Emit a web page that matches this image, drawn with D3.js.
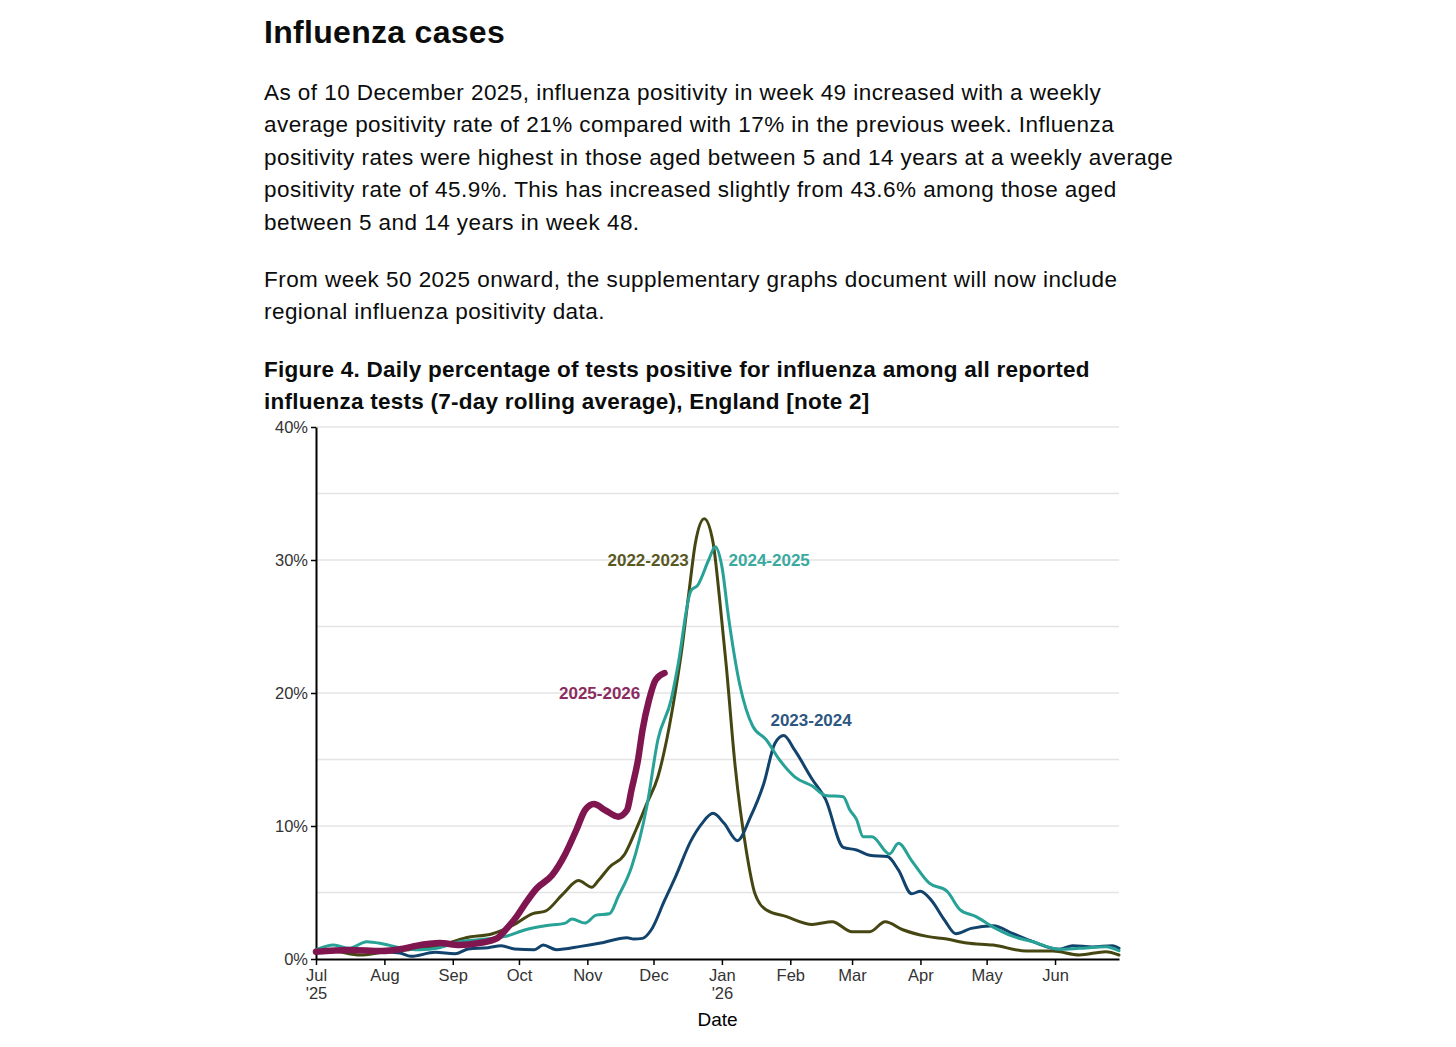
<!DOCTYPE html>
<html>
<head>
<meta charset="utf-8">
<script src="https://cdn.jsdelivr.net/npm/d3@7"></script>
<style>
  body { margin: 0; background: #fff; }
  svg text { font-family: "Liberation Sans", Arial, sans-serif; }
</style>
</head>
<body>
<div id="chart"></div>
<script>
// page text
var heading = "Influenza cases";
var para1 = [
  "As of 10 December 2025, influenza positivity in week 49 increased with a weekly",
  "average positivity rate of 21% compared with 17% in the previous week. Influenza",
  "positivity rates were highest in those aged between 5 and 14 years at a weekly average",
  "positivity rate of 45.9%. This has increased slightly from 43.6% among those aged",
  "between 5 and 14 years in week 48."
];
var para2 = [
  "From week 50 2025 onward, the supplementary graphs document will now include",
  "regional influenza positivity data."
];
var figTitle = [
  "Figure 4. Daily percentage of tests positive for influenza among all reported",
  "influenza tests (7-day rolling average), England [note 2]"
];

// y ticks (percent)
var yTicks = [0, 10, 20, 30, 40];
var yGrid = [5, 10, 15, 20, 25, 30, 35, 40];

// each season is plotted on a Jul 2025 - Jun 2026 axis
var season2223 = [
  ["2025-07-01", 0.5], ["2025-07-08", 0.6], ["2025-07-21", 0.3], ["2025-07-31", 0.5],
  ["2025-08-12", 0.7], ["2025-08-26", 1.0], ["2025-09-07", 1.6], ["2025-09-19", 1.9],
  ["2025-09-30", 2.7], ["2025-10-07", 3.4], ["2025-10-13", 3.6], ["2025-10-21", 4.9],
  ["2025-10-28", 5.9], ["2025-11-03", 5.4], ["2025-11-06", 5.9], ["2025-11-11", 6.9],
  ["2025-11-18", 7.9], ["2025-11-23", 9.7], ["2025-11-28", 11.7], ["2025-12-03", 13.7],
  ["2025-12-07", 16.5], ["2025-12-11", 20.2], ["2025-12-14", 23.5], ["2025-12-17", 27.5],
  ["2025-12-20", 31.3], ["2025-12-24", 33.1], ["2025-12-28", 31.3], ["2025-12-31", 27.0],
  ["2026-01-03", 22.0], ["2026-01-07", 14.5], ["2026-01-12", 8.2], ["2026-01-16", 4.9],
  ["2026-01-21", 3.7], ["2026-01-30", 3.2], ["2026-02-11", 2.6], ["2026-02-20", 2.8],
  ["2026-03-01", 2.05], ["2026-03-09", 2.05], ["2026-03-16", 2.8], ["2026-03-24", 2.2],
  ["2026-04-04", 1.7], ["2026-04-13", 1.5], ["2026-04-22", 1.2], ["2026-05-04", 1.05],
  ["2026-05-19", 0.6], ["2026-05-31", 0.6], ["2026-06-12", 0.3], ["2026-06-24", 0.55],
  ["2026-06-30", 0.3]
];

var season2324 = [
  ["2025-07-01", 0.55], ["2025-07-21", 0.65], ["2025-08-08", 0.45], ["2025-08-13", 0.2],
  ["2025-08-24", 0.5], ["2025-09-02", 0.4], ["2025-09-08", 0.75], ["2025-09-17", 0.85],
  ["2025-09-23", 1.0], ["2025-09-29", 0.75], ["2025-10-08", 0.7], ["2025-10-12", 1.05],
  ["2025-10-18", 0.7], ["2025-10-29", 0.95], ["2025-11-07", 1.2], ["2025-11-19", 1.6],
  ["2025-11-22", 1.5], ["2025-11-26", 1.55], ["2025-11-30", 2.2], ["2025-12-06", 4.4],
  ["2025-12-11", 6.2], ["2025-12-18", 8.9], ["2025-12-23", 10.2], ["2025-12-28", 10.95],
  ["2026-01-02", 10.2], ["2026-01-08", 8.9], ["2026-01-14", 10.7], ["2026-01-20", 13.2],
  ["2026-01-25", 16.2], ["2026-01-29", 16.8], ["2026-02-03", 15.7], ["2026-02-11", 13.5],
  ["2026-02-17", 12.0], ["2026-02-25", 8.4], ["2026-03-03", 8.2], ["2026-03-09", 7.8],
  ["2026-03-17", 7.7], ["2026-03-22", 6.7], ["2026-03-28", 4.9], ["2026-04-01", 5.1],
  ["2026-04-06", 4.4], ["2026-04-12", 2.9], ["2026-04-17", 1.9], ["2026-04-24", 2.3],
  ["2026-05-04", 2.5], ["2026-05-13", 1.9], ["2026-05-22", 1.3], ["2026-06-03", 0.73],
  ["2026-06-09", 1.0], ["2026-06-18", 0.9], ["2026-06-27", 1.0], ["2026-06-30", 0.8]
];

var season2425 = [
  ["2025-07-01", 0.7], ["2025-07-09", 1.05], ["2025-07-16", 0.8], ["2025-07-24", 1.3],
  ["2025-07-31", 1.15], ["2025-08-08", 0.85], ["2025-08-17", 0.7], ["2025-08-26", 0.85],
  ["2025-09-04", 1.3], ["2025-09-16", 1.5], ["2025-09-25", 1.7], ["2025-10-04", 2.2],
  ["2025-10-13", 2.5], ["2025-10-22", 2.7], ["2025-10-25", 3.0], ["2025-10-31", 2.7],
  ["2025-11-05", 3.3], ["2025-11-11", 3.4], ["2025-11-15", 4.7], ["2025-11-21", 6.9],
  ["2025-11-28", 11.5], ["2025-12-03", 16.5], ["2025-12-09", 19.5], ["2025-12-12", 22.0],
  ["2025-12-18", 27.7], ["2025-12-21", 28.1], ["2025-12-26", 30.0], ["2025-12-29", 31.0],
  ["2026-01-01", 29.5], ["2026-01-04", 25.7], ["2026-01-09", 20.7], ["2026-01-15", 17.5],
  ["2026-01-21", 16.5], ["2026-01-27", 15.0], ["2026-02-03", 13.7], ["2026-02-11", 13.0],
  ["2026-02-17", 12.3], ["2026-02-25", 12.2], ["2026-02-28", 11.2], ["2026-03-03", 10.5],
  ["2026-03-06", 9.2], ["2026-03-10", 9.2], ["2026-03-18", 7.9], ["2026-03-22", 8.7],
  ["2026-03-28", 7.4], ["2026-04-05", 5.7], ["2026-04-13", 5.1], ["2026-04-19", 3.7],
  ["2026-04-26", 3.2], ["2026-05-04", 2.4], ["2026-05-13", 1.7], ["2026-05-22", 1.3],
  ["2026-06-03", 0.73], ["2026-06-12", 0.8], ["2026-06-24", 0.92], ["2026-06-30", 0.62]
];

var season2526 = [
  ["2025-07-01", 0.55], ["2025-07-16", 0.68], ["2025-07-31", 0.6], ["2025-08-08", 0.73],
  ["2025-08-15", 0.98], ["2025-08-26", 1.2], ["2025-09-04", 1.05], ["2025-09-13", 1.2],
  ["2025-09-21", 1.55], ["2025-09-25", 2.2], ["2025-09-30", 3.2], ["2025-10-04", 4.2],
  ["2025-10-09", 5.3], ["2025-10-16", 6.3], ["2025-10-22", 7.9], ["2025-10-27", 9.7],
  ["2025-10-31", 11.2], ["2025-11-04", 11.65], ["2025-11-09", 11.2], ["2025-11-15", 10.7],
  ["2025-11-19", 11.2], ["2025-11-21", 12.7], ["2025-11-24", 15.0], ["2025-11-26", 17.2],
  ["2025-11-29", 19.5], ["2025-12-02", 21.0], ["2025-12-06", 21.5]
];

var seriesNames = ["2022-2023", "2023-2024", "2024-2025", "2025-2026"];
var seriesData = [season2223, season2324, season2425, season2526];
var lineColours = ["#464612", "#12436d", "#28a197", "#801650"];
var labelColours = ["#58581f", "#2e5781", "#3aa9a0", "#8b2c60"];

var W = 1456, H = 1047;
var margin = { top: 427, right: 337, bottom: 88, left: 316 };
var width = W - margin.left - margin.right,
  height = H - margin.top - margin.bottom;

var svg = d3.select("#chart").append("svg")
  .attr("width", W)
  .attr("height", H);

// page text
var textCol = "#0b0c0c";
svg.append("text")
  .attr("x", 264).attr("y", 43)
  .attr("font-size", 32).attr("font-weight", "bold")
  .attr("letter-spacing", 0.3)
  .attr("fill", textCol)
  .text(heading);

svg.selectAll(".p1").data(para1).enter().append("text")
  .attr("x", 264)
  .attr("y", function (d, i) { return 100 + i * 32.4; })
  .attr("font-size", 22.5).attr("letter-spacing", 0.45).attr("fill", textCol)
  .text(function (d) { return d; });

svg.selectAll(".p2").data(para2).enter().append("text")
  .attr("x", 264)
  .attr("y", function (d, i) { return 287 + i * 32.4; })
  .attr("font-size", 22.5).attr("letter-spacing", 0.45).attr("fill", textCol)
  .text(function (d) { return d; });

svg.selectAll(".ft").data(figTitle).enter().append("text")
  .attr("x", 264)
  .attr("y", function (d, i) { return 377 + i * 32.4; })
  .attr("font-size", 22.5).attr("letter-spacing", 0.25)
  .attr("font-weight", "bold").attr("fill", textCol)
  .text(function (d) { return d; });

var g = svg.append("g")
  .attr("transform", "translate(" + margin.left + "," + margin.top + ")");

var parse = d3.timeParse("%Y-%m-%d");

var x = d3.scaleTime()
  .domain([parse("2025-07-01"), parse("2026-06-30")])
  .range([0, width]);

var y = d3.scaleLinear()
  .domain([0, 40])
  .range([height, 0]);

// gridlines
g.append("g").selectAll("line")
  .data(yGrid)
  .enter().append("line")
  .attr("x1", 0).attr("x2", width)
  .attr("y1", function (d) { return y(d); })
  .attr("y2", function (d) { return y(d); })
  .attr("stroke", "#e4e4e4")
  .attr("stroke-width", 1.3);

// y axis
var yAxis = g.append("g")
  .call(d3.axisLeft(y).tickValues(yTicks).tickSize(5).tickSizeOuter(0)
    .tickFormat(function (d) { return d + "%"; }));
yAxis.select(".domain").attr("stroke", "#000").attr("stroke-width", 2);
yAxis.selectAll(".tick line").attr("stroke", "#000").attr("stroke-width", 1.5);
yAxis.selectAll(".tick text")
  .attr("font-size", 16.5).attr("fill", "#333")
  .attr("font-family", "Liberation Sans, Arial, sans-serif")
  .attr("x", -8);

// x axis
var months = d3.timeMonth.range(parse("2025-07-01"), parse("2026-07-01"));
var xAxis = g.append("g")
  .attr("transform", "translate(0," + height + ")")
  .call(d3.axisBottom(x).tickValues(months).tickSize(6).tickSizeOuter(0)
    .tickFormat(d3.timeFormat("%b")));
xAxis.select(".domain").attr("stroke", "#000").attr("stroke-width", 2);
xAxis.selectAll(".tick line").attr("stroke", "#000").attr("stroke-width", 1.5);
xAxis.selectAll(".tick text")
  .attr("font-size", 16.5).attr("fill", "#333")
  .attr("font-family", "Liberation Sans, Arial, sans-serif")
  .attr("y", 10);
// year under Jul and Jan
xAxis.selectAll(".tick")
  .filter(function (d) { return d.getMonth() === 0 || d.getMonth() === 6; })
  .append("text")
  .attr("y", 28).attr("dy", "0.71em")
  .attr("fill", "#333").attr("font-size", 16.5)
  .attr("font-family", "Liberation Sans, Arial, sans-serif")
  .text(function (d) { return "'" + d3.timeFormat("%y")(d); });

g.append("text")
  .attr("x", x(parse("2025-12-30")))
  .attr("y", height + 67)
  .attr("text-anchor", "middle")
  .attr("font-size", 19).attr("fill", "#000")
  .text("Date");

// lines
var line = d3.line()
  .x(function (d) { return x(parse(d[0])); })
  .y(function (d) { return y(d[1]); })
  .curve(d3.curveMonotoneX);

g.append("g").selectAll("path")
  .data(seriesData)
  .enter().append("path")
  .attr("fill", "none")
  .attr("stroke", function (d, i) { return lineColours[i]; })
  .attr("stroke-width", function (d, i) { return i === 3 ? 6.5 : 3; })
  .attr("stroke-linejoin", "round")
  .attr("stroke-linecap", "round")
  .attr("d", line);

// series labels
var labelPos = [
  { date: "2025-12-17", val: 30, anchor: "end" },
  { date: "2026-01-23", val: 18, anchor: "start" },
  { date: "2026-01-04", val: 30, anchor: "start" },
  { date: "2025-11-25", val: 20, anchor: "end" }
];

g.append("g").selectAll("text")
  .data(labelPos)
  .enter().append("text")
  .attr("x", function (d) { return x(parse(d.date)); })
  .attr("y", function (d) { return y(d.val); })
  .attr("dy", "0.35em")
  .attr("text-anchor", function (d) { return d.anchor; })
  .attr("font-size", 17).attr("font-weight", "bold")
  .attr("fill", function (d, i) { return labelColours[i]; })
  .text(function (d, i) { return seriesNames[i]; });
</script>
</body>
</html>
